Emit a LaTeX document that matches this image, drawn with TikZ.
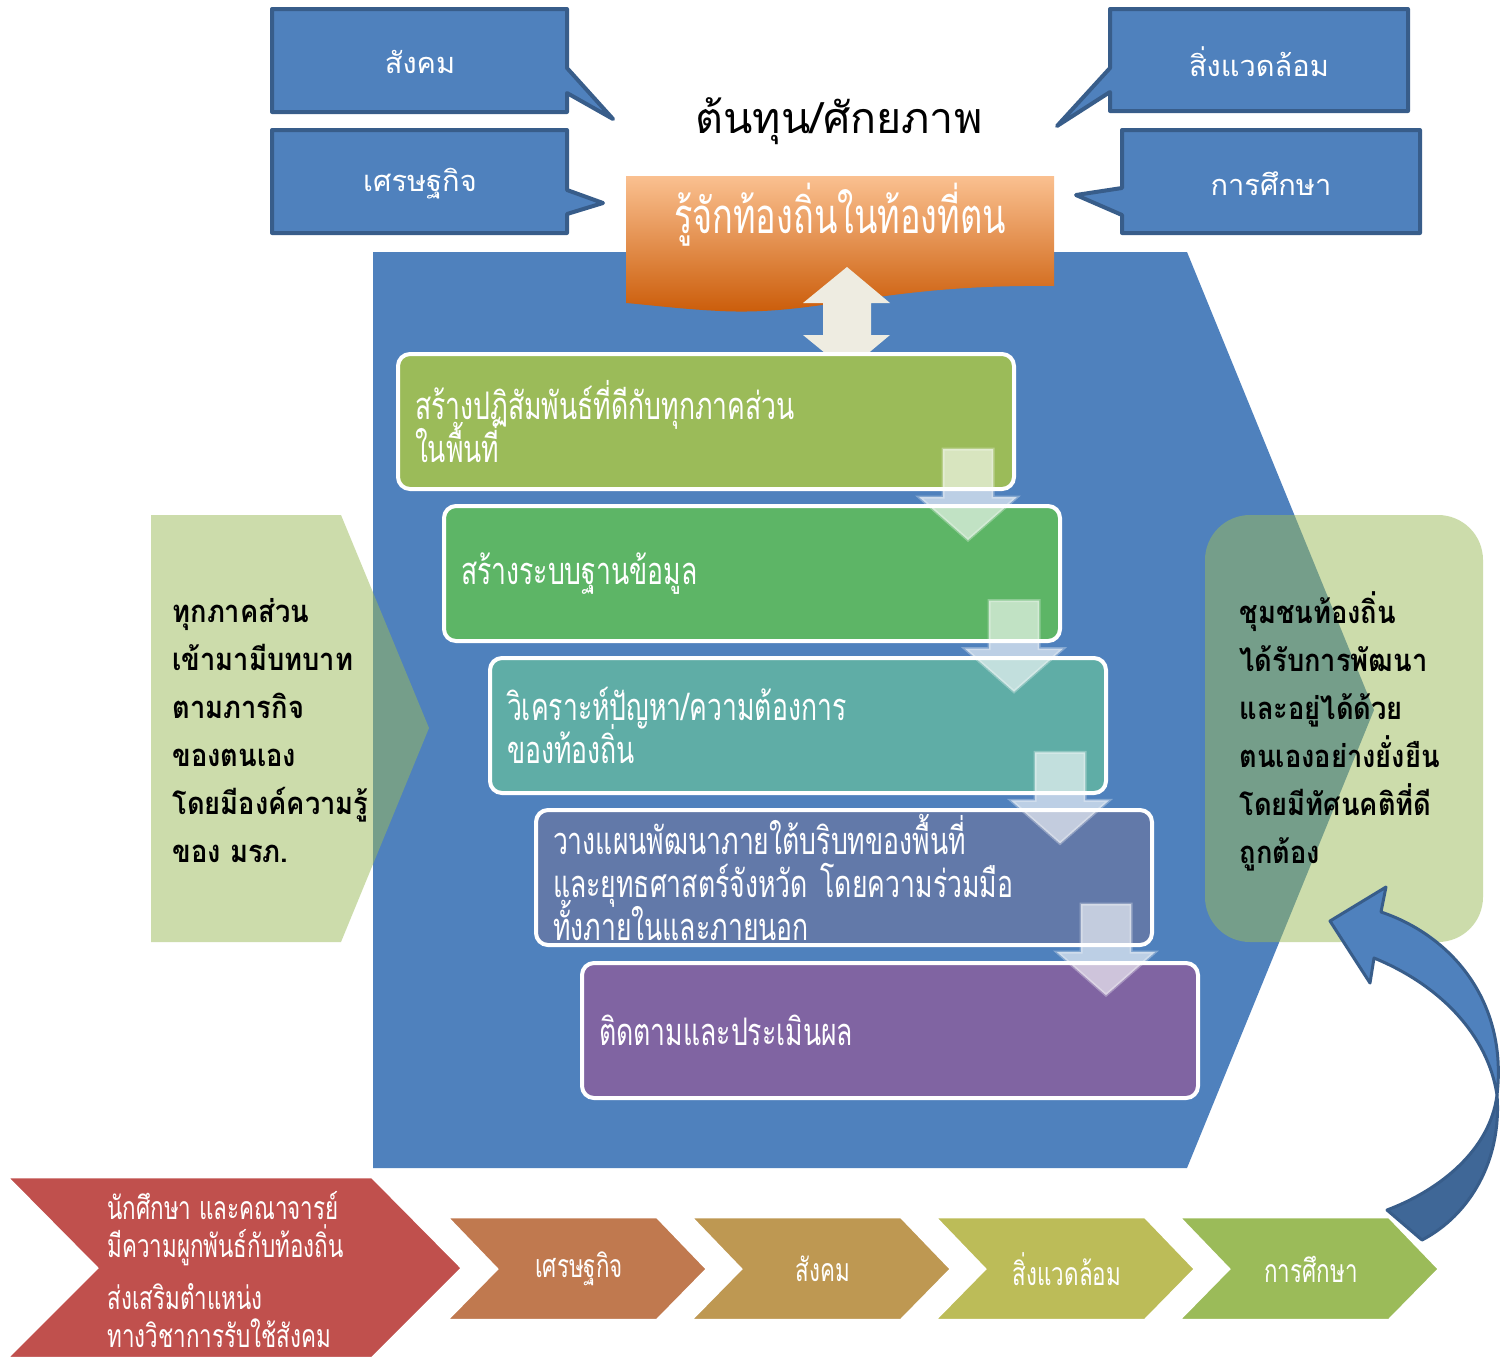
\documentclass[tikz,border=0pt]{standalone}
\usepackage{fontspec}
\newfontfamily\thaifont[Script=Thai]{Loma}
\newfontfamily\thaicond[Script=Thai,FakeStretch=0.7]{Loma}
\newfontfamily\thaibold[Script=Thai,FakeStretch=0.88]{Loma Bold}
\newcommand\tightlines{\lineskiplimit-30pt\relax}
\usetikzlibrary{positioning,calc}

\definecolor{calloutblue}{HTML}{4F81BD}
\definecolor{calloutline}{HTML}{385D8A}
\definecolor{mainblue}{HTML}{4F81BD}
\definecolor{palegreen}{HTML}{9BBB59}
\definecolor{peach}{HTML}{FAC090}
\definecolor{orangemid}{HTML}{F59A4E}
\definecolor{orangedark}{HTML}{CA5A06}
\definecolor{cream}{HTML}{EEECE1}
\definecolor{stepa}{HTML}{9BBB59}
\definecolor{stepb}{HTML}{5DB566}
\definecolor{stepc}{HTML}{5FADA6}
\definecolor{stepd}{HTML}{6279A9}
\definecolor{stepe}{HTML}{8064A2}
\definecolor{chevred}{HTML}{C0504D}
\definecolor{chevb}{HTML}{C0794F}
\definecolor{chevc}{HTML}{BE9852}
\definecolor{chevd}{HTML}{BCBC58}
\definecolor{cheve}{HTML}{9BBB59}
\definecolor{twistdark}{HTML}{3F6797}

\tikzset{
  callout/.style={fill=calloutblue, draw=calloutline, line width=4pt, line join=round},
  callouttext/.style={text=white, font=\thaifont\fontsize{29}{34}\selectfont},
  stepbox/.style={anchor=north west, draw=white, line width=4pt, rounded corners=12pt,
    minimum width=616pt, minimum height=135pt, text width=582pt, inner xsep=17pt, inner ysep=2pt,
    align=left, text=white, font=\thaicond\fontsize{38}{43}\selectfont\tightlines},
  downarrow/.style={fill=white, fill opacity=0.62, draw=white, draw opacity=0.3, line width=3pt},
  paleshape/.style={fill=palegreen, fill opacity=0.5},
  boldtext/.style={anchor=west, align=left, text=black, font=\thaibold\fontsize{31}{48}\selectfont\tightlines},
  chevron/.style={draw=white, line width=2.5pt},
  chevtext/.style={text=white, font=\thaicond\fontsize{32}{38}\selectfont\tightlines}
}

\begin{document}
\begin{tikzpicture}[x=1pt,y=-1pt]
  \useasboundingbox (0,0) rectangle (1510,1361);
  \fill[white] (0,0) rectangle (1510,1361);

  % callouts top
  \draw[callout] (272,9) -- (567,9) -- (567,68) -- (613,119) -- (567,93) -- (567,112) -- (272,112) -- cycle;
  \draw[callout] (272,130) -- (567,130) -- (567,190) -- (603,203) -- (567,214) -- (567,233) -- (272,233) -- cycle;
  \draw[callout] (1110,9) -- (1408,9) -- (1408,111) -- (1110,111) -- (1110,92) -- (1057,126) -- (1110,68) -- cycle;
  \draw[callout] (1122,130) -- (1420,130) -- (1420,233) -- (1122,233) -- (1122,215) -- (1076,195) -- (1122,188) -- cycle;
  \node[callouttext] (society) at (420,62) {สังคม};
  \node[callouttext] (economy) at (420,184) {เศรษฐกิจ};
  \node[callouttext] (environment) at (1259,62) {สิ่งแวดล้อม};
  \node[callouttext] (education) at (1271,184) {การศึกษา};

  \node[font=\thaifont\fontsize{43}{50}\selectfont] (capital) at (839,121) {ต้นทุน/ศักยภาพ};

  % big blue body
  \fill[mainblue] (373,252) -- (1187,252) -- (1374,710) -- (1187,1168) -- (373,1168) -- cycle;

  % side panels
  \fill[paleshape] (151,515) -- (341,515) -- (429,728) -- (341,942) -- (151,942) -- cycle;
  \fill[paleshape, rounded corners=45pt] (1205,515) rectangle (1483,942);
  \node[boldtext] (partners) at (169,731) {ทุกภาคส่วน\\เข้ามามีบทบาท\\ตามภารกิจ\\ของตนเอง\\โดยมีองค์ความรู้\\ของ มรภ.};
  \node[boldtext] (outcome) at (1236,731) {ชุมชนท้องถิ่น\\ได้รับการพัฒนา\\และอยู่ได้ด้วย\\ตนเองอย่างยั่งยืน\\โดยมีทัศนคติที่ดี\\ถูกต้อง};

  % banner
  \shade[top color=peach, middle color=orangemid, bottom color=orangedark]
    (626,176) -- (1054,176) -- (1054,286) .. controls (880,284) and (820,316) .. (720,311)
    .. controls (680,309) and (650,305) .. (626,303) -- cycle;
  \node[text=white, font=\thaicond\fontsize{49}{56}\selectfont] (knowlocal) at (840,215) {รู้จักท้องถิ่นในท้องที่ตน};

  \fill[cream] (847,267) -- (890,303) -- (871,303) -- (871,335) -- (890,335) -- (847,371)
    -- (803,335) -- (823,335) -- (823,303) -- (803,303) -- cycle;

  % steps
  \node[stepbox, fill=stepa] (relate) at (396,352) {สร้างปฏิสัมพันธ์ที่ดีกับทุกภาคส่วน\\ในพื้นที่};
  \node[stepbox, fill=stepb] (database) at (442,504) {สร้างระบบฐานข้อมูล};
  \node[stepbox, fill=stepc] (analyse) at (488,656) {วิเคราะห์ปัญหา/ความต้องการ\\ของท้องถิ่น};
  \node[stepbox, fill=stepd] (plan) at (534,808) {วางแผนพัฒนาภายใต้บริบทของพื้นที่\\และยุทธศาสตร์จังหวัด โดยความร่วมมือ\\ทั้งภายในและภายนอก};
  \node[stepbox, fill=stepe] (monitor) at (580,961) {ติดตามและประเมินผล};

  \foreach \i in {0,...,3}{
    \pgfmathsetmacro\cx{968+46*\i}
    \pgfmathsetmacro\by{487+151.7*\i}
    \filldraw[downarrow] (\cx-25,\by-38) -- (\cx+25,\by-38) -- (\cx+25,\by+10) -- (\cx+49,\by+10)
      -- (\cx,\by+53) -- (\cx-49,\by+10) -- (\cx-25,\by+10) -- cycle;
  }

  % curved arrow
  \filldraw[fill=twistdark, draw=calloutline, line width=3pt, line join=round]
    (1387,1210) .. controls (1440,1190) and (1490,1150) .. (1497,1095)
    .. controls (1502,1160) and (1470,1215) .. (1422,1240) -- cycle;
  \filldraw[fill=calloutblue, draw=calloutline, line width=3pt, line join=round]
    (1330,921) -- (1386,887) -- (1381,912) .. controls (1450,935) and (1508,1000) .. (1497,1095)
    .. controls (1488,1035) and (1440,985) .. (1374,958) -- (1370,983) -- cycle;

  % bottom row
  \filldraw[chevron, fill=chevred] (7,1177) -- (372,1177) -- (462,1268) -- (372,1358) -- (7,1358) -- (97,1268) -- cycle;
  \node[chevtext, anchor=west, align=left] (staff) at (104,1270)
    {นักศึกษา และคณาจารย์\\มีความผูกพันธ์กับท้องถิ่น\\[14pt]ส่งเสริมตำแหน่ง\\ทางวิชาการรับใช้สังคม};
  \foreach \x/\c/\t in {447/chevb/เศรษฐกิจ,691/chevc/สังคม,935/chevd/สิ่งแวดล้อม,1179/cheve/การศึกษา}{
    \filldraw[chevron, fill=\c] (\x,1217) -- ++(210,0) -- ++(50,52) -- ++(-50,51) -- ++(-210,0) -- ++(50,-51) -- cycle;
    \node[chevtext] (sector-\x) at (\x+132,1269) {\t};
  }
\end{tikzpicture}
\end{document}
